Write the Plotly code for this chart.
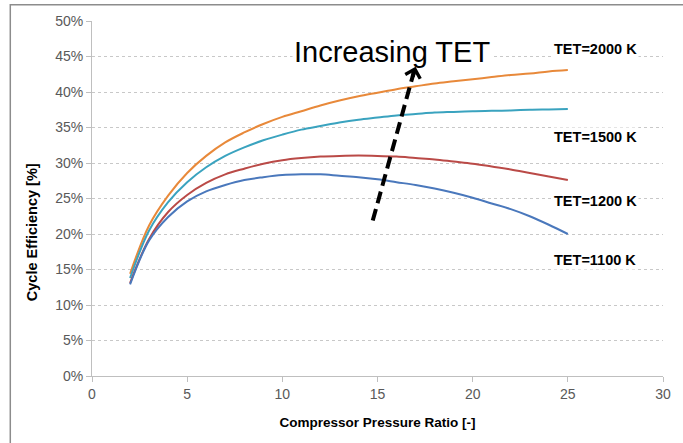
import plotly.graph_objects as go

pressure_ratio = list(range(2, 26))
eff_2000 = [14.4, 21.2, 25.4, 28.6, 31.0, 32.9, 34.3, 35.5, 36.5, 37.3, 38.1, 38.8,
            39.4, 39.9, 40.4, 40.8, 41.2, 41.5, 41.8, 42.1, 42.4, 42.6, 42.9, 43.1]
eff_1500 = [13.8, 20.5, 24.5, 27.3, 29.4, 31.0, 32.2, 33.2, 34.0, 34.7, 35.2, 35.7,
            36.1, 36.4, 36.7, 36.9, 37.1, 37.2, 37.3, 37.35, 37.4, 37.5, 37.55, 37.6]
eff_1200 = [13.1, 19.3, 23.1, 25.5, 27.2, 28.4, 29.2, 29.9, 30.4, 30.7, 30.9, 31.0,
            31.05, 31.0, 30.9, 30.7, 30.5, 30.2, 29.9, 29.5, 29.1, 28.6, 28.1, 27.6]
eff_1100 = [12.9, 19.1, 22.4, 24.6, 26.0, 26.9, 27.6, 28.0, 28.3, 28.4, 28.4, 28.2,
            28.0, 27.7, 27.3, 26.9, 26.4, 25.8, 25.1, 24.3, 23.5, 22.5, 21.3, 20.0]

series_names = ["TET=2000 K", "TET=1500 K", "TET=1200 K", "TET=1100 K"]
series_values = [eff_2000, eff_1500, eff_1200, eff_1100]
series_colors = ["#E8893A", "#3AA3BF", "#BA4A47", "#4A78BC"]
label_y = [46.1, 33.6, 24.7, 16.4]
label_x = 26.45

x_ticks = [0, 5, 10, 15, 20, 25, 30]
y_ticks = [0, 5, 10, 15, 20, 25, 30, 35, 40, 45, 50]
y_tick_labels = [f"{v}%" for v in y_ticks]

arrow_start = (14.75, 21.9)
arrow_end = (16.95, 43.2)
arrow_tip = (17.0, 43.55)
title_pos = (15.74, 45.6)
y_title_pos = (-0.1058, 20.2)

fig = go.Figure()
for name, vals, col in zip(series_names, series_values, series_colors):
    fig.add_trace(go.Scatter(x=pressure_ratio, y=vals, mode="lines", name=name,
                             line=dict(color=col, width=2, shape="spline", smoothing=1.0)))

annotations = []
for name, ly in zip(series_names, label_y):
    annotations.append(dict(x=label_x, y=ly, xref="x", yref="y", text=f"<b>{name}</b>", showarrow=False,
                            font=dict(family="Liberation Sans, Arial", size=14.5, color="#000000"),
                            bgcolor="white", borderpad=1))
annotations.append(dict(x=title_pos[0], y=title_pos[1], xref="x", yref="y", text="Increasing TET",
                        showarrow=False, bgcolor="white",
                        font=dict(family="Liberation Sans, Arial", size=29, color="#000000")))
annotations.append(dict(x=arrow_tip[0], y=arrow_tip[1], xref="x", yref="y", text="",
                        showarrow=True, arrowhead=4, arrowsize=0.75, arrowwidth=4,
                        arrowcolor="#000000", ax=-3.3, ay=11.5))
annotations.append(dict(x=y_title_pos[0], y=y_title_pos[1], xref="paper", yref="y",
                        xanchor="center", yanchor="middle",
                        text="<b>Cycle Efficiency [%]</b>", textangle=-90, showarrow=False,
                        font=dict(family="Liberation Sans, Arial", size=14.5, color="#000000")))

shapes = [
    dict(type="line", xref="x", yref="y", x0=arrow_start[0], y0=arrow_start[1],
         x1=arrow_end[0], y1=arrow_end[1], line=dict(color="#000000", width=4, dash="12px,6px")),
    dict(type="rect", xref="paper", yref="paper", x0=-0.1431, y0=-0.3, x1=1.2, y1=1.0456,
         line=dict(color="#8C8C8C", width=1.5), layer="below"),
]

fig.update_layout(
    width=683, height=443,
    margin=dict(l=92, r=14.5, t=20.7, b=67.3),
    paper_bgcolor="white", plot_bgcolor="white",
    showlegend=False,
    font=dict(family="Liberation Sans, Arial", color="#595959"),
    annotations=annotations, shapes=shapes,
)
fig.update_xaxes(range=[0, 30], tickvals=x_ticks, showgrid=False, showline=True,
                 linecolor="#BFBFBF", linewidth=1, ticks="outside", ticklen=5, tickcolor="#BFBFBF",
                 tickfont=dict(size=14, color="#595959"), zeroline=False,
                 title=dict(text="<b>Compressor Pressure Ratio [-]</b>", font=dict(size=13.5, color="#000000"),
                            standoff=16))
fig.update_yaxes(range=[0, 50], tickvals=y_ticks, ticktext=y_tick_labels, showgrid=True,
                 gridcolor="#C8C8C8", griddash="dot", gridwidth=1, showline=True,
                 linecolor="#BFBFBF", linewidth=1, ticks="outside", ticklen=5, tickcolor="#BFBFBF",
                 tickfont=dict(size=14, color="#595959"), zeroline=False)

fig.write_html("out.html")
